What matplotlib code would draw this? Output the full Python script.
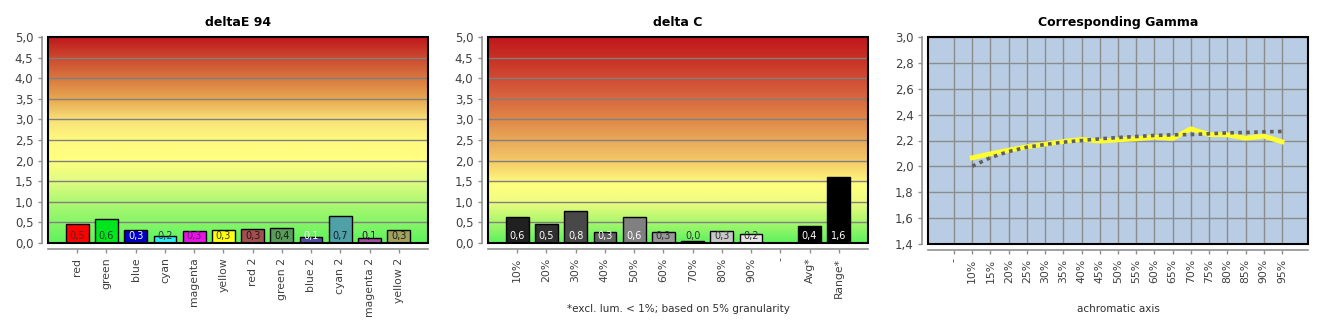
import numpy as np
import matplotlib
matplotlib.use("Agg")
import matplotlib.pyplot as plt
from matplotlib.colors import LinearSegmentedColormap
from matplotlib.patches import Rectangle
from matplotlib.ticker import FuncFormatter, MultipleLocator

plt.rcParams['font.family'] = ['DejaVu Sans']

# ---------------- data ----------------
de_categories = ["red", "green", "blue", "cyan", "magenta", "yellow",
                 "red 2", "green 2", "blue 2", "cyan 2", "magenta 2", "yellow 2"]
de_values = [0.46, 0.59, 0.32, 0.17, 0.30, 0.32, 0.35, 0.37, 0.15, 0.65, 0.13, 0.32]
de_labels = ["0,5", "0,6", "0,3", "0,2", "0,3", "0,3", "0,3", "0,4", "0,1", "0,7", "0,1", "0,3"]

dc_categories = ["10%", "20%", "30%", "40%", "50%", "60%", "70%", "80%", "90%", "-", "Avg*", "Range*"]
dc_values = [0.63, 0.47, 0.78, 0.27, 0.63, 0.27, 0.05, 0.29, 0.22, 0.0, 0.42, 1.60]
dc_labels = ["0,6", "0,5", "0,8", "0,3", "0,6", "0,3", "0,0", "0,3", "0,2", "", "0,4", "1,6"]

gamma_categories = ["-", "10%", "15%", "20%", "25%", "30%", "35%", "40%", "45%", "50%",
                    "55%", "60%", "65%", "70%", "75%", "80%", "85%", "90%", "95%"]
gamma_measured = [None, 2.066, 2.097, 2.125, 2.151, 2.172, 2.192, 2.208, 2.195, 2.205,
                  2.213, 2.226, 2.216, 2.29, 2.246, 2.244, 2.218, 2.234, 2.19]
gamma_target = [None, 2.001, 2.068, 2.115, 2.148, 2.169, 2.187, 2.200, 2.213, 2.223,
                2.231, 2.239, 2.244, 2.246, 2.252, 2.259, 2.262, 2.267, 2.270]

# ---------------- styles ----------------
de_colors = ["#ff0000", "#00e61e", "#0000c8", "#28ecf4", "#e614e6", "#ffff14",
             "#a05050", "#5a9a5a", "#5050a0", "#50a0a8", "#a050a0", "#a0a060"]
de_text = ["#602020", "#204020", "white", "#204040", "#602060", "#404010",
           "#301010", "#102010", "white", "#102028", "#200820", "#202010"]
dc_colors = ["#202020", "#303030", "#484848", "#606060", "#808080", "#989898",
             "#b4b4b4", "#c8c8c8", "#e4e4e4", "#ffffff", "#000000", "#000000"]
dc_text = ["white", "white", "white", "white", "white", "#303030",
           "#303030", "#303030", "#303030", "#303030", "white", "white"]

cmap1 = LinearSegmentedColormap.from_list("de", [
    (0.0, "#5ef25e"), (0.2, "#b0f872"), (0.3, "#e0fc80"), (0.4, "#ffff80"),
    (0.5, "#fffa80"), (0.6, "#f8e078"), (0.7, "#e8a850"), (0.8, "#d87840"),
    (0.9, "#cc4a30"), (1.0, "#c0181c")])
cmap2 = LinearSegmentedColormap.from_list("dc", [
    (0.0, "#5ef25e"), (0.12, "#b8f870"), (0.2, "#f0fc80"), (0.28, "#ffff80"),
    (0.4, "#f4c868"), (0.5, "#e8a858"), (0.6, "#e08848"), (0.7, "#d86840"),
    (0.8, "#d04c34"), (0.9, "#c83024"), (1.0, "#c0181c")])

W, H = 1330, 330
fig = plt.figure(figsize=(W / 100, H / 100), dpi=100)

def fpos(x0, y0, x1, y1):
    return [x0 / W, 1 - y1 / H, (x1 - x0) / W, (y1 - y0) / H]

comma = FuncFormatter(lambda v, p: ("%.1f" % v).replace(".", ","))
tickcol = "#404040"

def style_axes(ax):
    for s in ["top", "right"]:
        ax.spines[s].set_visible(False)
    for s in ["left", "bottom"]:
        ax.spines[s].set_position(("outward", 4))
        ax.spines[s].set_color("#909090")
        ax.spines[s].set_linewidth(1.2)
    ax.add_patch(Rectangle((0, 0), 1, 1, transform=ax.transAxes, fill=False,
                           ec="black", lw=1.5, zorder=10, clip_on=False))
    ax.tick_params(axis="both", colors="#909090", labelcolor=tickcol, length=3, width=1)
    ax.tick_params(axis="y", labelsize=8.5)
    ax.tick_params(axis="x", labelsize=7.8, labelrotation=90)
    ax.yaxis.set_major_formatter(comma)

def bar_panel(pos, cats, vals, labels, colors, tcolors, cmap, title):
    ax = fig.add_axes(pos)
    x = np.arange(len(cats))
    ax.set_xlim(-1, len(cats))
    ax.set_ylim(0, 5)
    grad = np.linspace(0, 1, 512).reshape(-1, 1)
    ax.imshow(grad, cmap=cmap, origin="lower", aspect="auto",
              extent=(-1, len(cats), 0, 5), zorder=0, interpolation="bilinear")
    for yv in np.arange(0.5, 5.0, 0.5):
        ax.axhline(yv, color="#808080", lw=1, zorder=1)
    ax.bar(x, vals, width=0.78, color=colors, edgecolor="black", linewidth=1, zorder=3)
    for xi, lab, tc in zip(x, labels, tcolors):
        ax.text(xi, 0.17, lab, ha="center", va="center", fontsize=7, color=tc, zorder=4)
    ax.set_xticks(x)
    ax.set_xticklabels(cats)
    ax.yaxis.set_major_locator(MultipleLocator(0.5))
    style_axes(ax)
    ax.set_title(title, fontsize=9, fontweight="bold", pad=8)
    return ax

bar_panel(fpos(48, 37, 428, 243), de_categories, de_values, de_labels,
          de_colors, de_text, cmap1, "deltaE 94")
ax2 = bar_panel(fpos(488, 37, 868, 243), dc_categories, dc_values, dc_labels,
                dc_colors, dc_text, cmap2, "delta C")
fig.text(678 / W, 1 - 309 / H, "*excl. lum. < 1%; based on 5% granularity",
         ha="center", va="center", fontsize=7.5, color="#303030")

# gamma panel
ax3 = fig.add_axes(fpos(928, 37, 1308, 244))
n = len(gamma_categories)
x = np.arange(n)
ax3.set_facecolor("#b8cce4")
ax3.set_xlim(-1.43, n - 1 + 1.43)
ax3.set_ylim(1.4, 3.0)
ax3.yaxis.set_major_locator(MultipleLocator(0.2))
ax3.set_xticks(x)
ax3.set_xticklabels(gamma_categories)
ax3.grid(True, color="#8c8c8c", lw=1)
ax3.set_axisbelow(True)
xm = [xi for xi, v in zip(x, gamma_measured) if v is not None]
ym = [v for v in gamma_measured if v is not None]
yt = [v for v in gamma_target if v is not None]
ax3.plot(xm, ym, color="#ffff30", lw=3.5, zorder=3, solid_joinstyle="miter")
ax3.plot(xm, yt, color="#606060", lw=2.6, ls=(0, (1.0, 1.2)), zorder=4)
style_axes(ax3)
ax3.set_title("Corresponding Gamma", fontsize=9, fontweight="bold", pad=8)
fig.text(1118 / W, 1 - 309 / H, "achromatic axis",
         ha="center", va="center", fontsize=7.5, color="#303030")

fig.savefig("out.png", dpi=100, facecolor="white")
